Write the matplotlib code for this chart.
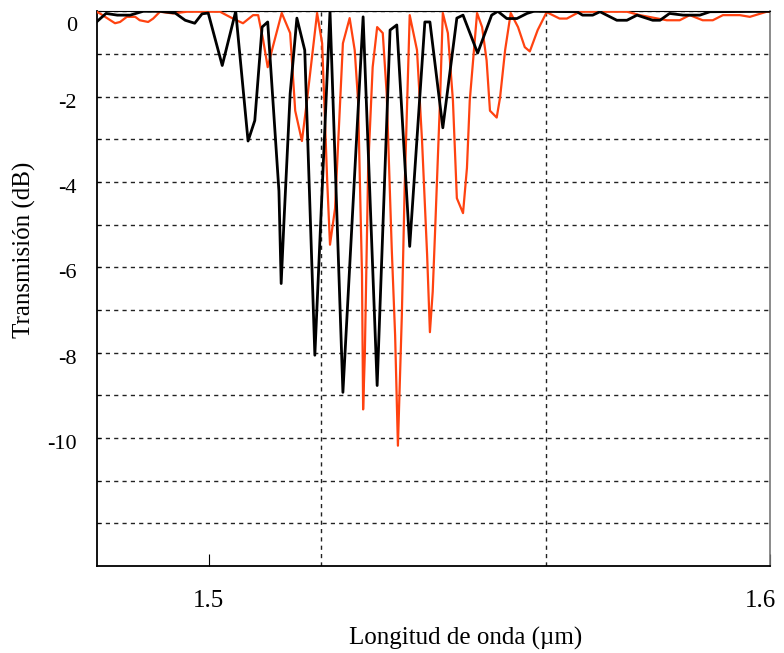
import matplotlib
matplotlib.use("Agg")
import matplotlib.pyplot as plt
from matplotlib.transforms import ScaledTranslation

# longitud de onda (um) y transmision (dB), curva negra
lam_negra = [1.4800, 1.4817, 1.4837, 1.4860, 1.4883, 1.4913, 1.4940, 1.4958, 1.4975,
             1.4988, 1.4999, 1.5024, 1.5048, 1.5070, 1.5082, 1.5095, 1.5105, 1.5125,
             1.5129, 1.5134, 1.5145, 1.5157, 1.5171, 1.5189, 1.5216, 1.5239, 1.5275,
             1.5300, 1.5323, 1.5335, 1.5358, 1.5385, 1.5394, 1.5417, 1.5442, 1.5453,
             1.5479, 1.5504, 1.5515, 1.5531, 1.5549, 1.5567, 1.5579, 1.5656, 1.5666,
             1.5684, 1.5697, 1.5727, 1.5745, 1.5763, 1.5791, 1.5804, 1.5821, 1.5845,
             1.5875, 1.5893, 1.6000]
tr_negra = [-0.25, -0.05, -0.09, -0.09, 0.0, 0.0, -0.04, -0.21, -0.28,
            -0.06, -0.04, -1.27, 0.0, -3.04, -2.56, -0.37, -0.25, -4.21,
            -6.38, -4.92, -1.93, -0.16, -0.91, -8.06, 0.0, -8.93, -0.13,
            -8.77, -0.44, -0.32, -5.51, -0.25, -0.25, -2.73, -0.16, -0.09,
            -0.98, -0.09, 0.0, -0.17, -0.17, -0.05, 0.0, -0.01, -0.09,
            -0.09, -0.01, -0.21, -0.21, -0.09, -0.21, -0.21, -0.05, -0.09,
            -0.09, -0.01, 0.0]

# curva naranja
lam_naranja = [1.4800, 1.4806, 1.4820, 1.4833, 1.4842, 1.4854, 1.4869, 1.4877, 1.4892,
               1.4901, 1.4913, 1.4936, 1.4961, 1.5020, 1.5043, 1.5061, 1.5079, 1.5088,
               1.5097, 1.5105, 1.5114, 1.5130, 1.5145, 1.5154, 1.5166, 1.5175, 1.5193,
               1.5202, 1.5211, 1.5216, 1.5225, 1.5239, 1.5251, 1.5260, 1.5266, 1.5273,
               1.5275, 1.5278, 1.5284, 1.5292, 1.5300, 1.5310, 1.5317, 1.5326, 1.5332,
               1.5337, 1.5344, 1.5349, 1.5358, 1.5371, 1.5380, 1.5389, 1.5394, 1.5399,
               1.5403, 1.5412, 1.5417, 1.5426, 1.5435, 1.5442, 1.5453, 1.5460, 1.5465,
               1.5478, 1.5487, 1.5495, 1.5501, 1.5513, 1.5519, 1.5528, 1.5538, 1.5551,
               1.5563, 1.5572, 1.5586, 1.5602, 1.5625, 1.5638, 1.5661, 1.5745, 1.5768,
               1.5816, 1.5839, 1.5857, 1.5880, 1.5898, 1.5916, 1.5946, 1.5964, 1.5994,
               1.6000]
tr_naranja = [-0.01, -0.05, -0.17, -0.28, -0.25, -0.13, -0.13, -0.21, -0.25,
              -0.17, -0.01, -0.05, -0.01, -0.01, -0.17, -0.28, -0.09, -0.09,
              -0.68, -1.31, -0.84, -0.04, -0.51, -2.33, -3.04, -2.09, -0.04,
              -0.75, -3.98, -5.47, -4.62, -0.75, -0.16, -0.91, -2.09, -6.17,
              -9.33, -8.06, -3.67, -1.31, -0.37, -0.51, -1.93, -5.56, -7.59,
              -10.18, -7.12, -4.14, -0.09, -0.91, -3.04, -5.70, -7.52, -6.57,
              -5.23, -2.09, -0.04, -0.51, -2.09, -4.38, -4.73, -3.67, -2.09,
              -0.04, -0.37, -1.15, -2.33, -2.49, -2.02, -0.91, -0.04, -0.37,
              -0.84, -0.94, -0.44, -0.02, -0.17, -0.17, -0.01, -0.01, -0.09,
              -0.21, -0.21, -0.09, -0.21, -0.21, -0.09, -0.09, -0.13, -0.01,
              -0.01]

y_ticks = [0, -2, -4, -6, -8, -10]
y_labels = ["0", "-2", "-4", "-6", "-8", "-10"]
x_ticks = [1.5, 1.6]
x_labels = ["1.5", "1.6"]

plt.rcParams['font.family'] = ['Liberation Serif', 'DejaVu Serif']

fig = plt.figure(figsize=(7.84, 6.53), dpi=100)
ax = fig.add_axes([0.1231, 0.1332, 0.8591, 0.8495])

ax.plot(lam_naranja, tr_naranja, color='#ff4210', lw=1.6, zorder=3)
ax.plot(lam_negra, tr_negra, color='black', lw=2.0, zorder=4)

ax.set_xlim(1.48, 1.6)
ax.set_ylim(-13, 0)

# rejilla discontinua
ax.set_yticks(y_ticks, y_labels)
ax.set_yticks([-1, -3, -5, -7, -9, -11, -12], minor=True)
ax.set_xticks(x_ticks, x_labels)
ax.set_xticks([1.52, 1.56], minor=True)
ax.grid(True, which='both', axis='y', color='#222222', ls=(0, (3, 3)), lw=1.0)
ax.grid(True, which='minor', axis='x', color='#222222', ls=(0, (3, 3)), lw=1.0)
ax.set_axisbelow(True)

ax.tick_params(axis='y', which='both', direction='in', length=3, labelsize=16, pad=14)
ax.tick_params(axis='x', which='major', direction='in', length=9, labelsize=18, pad=17)
ax.tick_params(axis='x', which='minor', length=0)

# etiquetas del eje y algo por debajo de la linea
for i, lab in enumerate(ax.get_yticklabels()):
    dy = -13 if i == 0 else -4
    lab.set_transform(lab.get_transform() + ScaledTranslation(0, dy / 100, fig.dpi_scale_trans))

# 1.6 pegado al borde derecho
lab16 = ax.get_xticklabels()[-1]
lab16.set_transform(lab16.get_transform() + ScaledTranslation(-10 / 100, 0, fig.dpi_scale_trans))

for s in ['left', 'bottom']:
    ax.spines[s].set_linewidth(1.3)
ax.spines['top'].set_linewidth(0.8)
ax.spines['right'].set_color('#777777')
ax.spines['right'].set_linewidth(1.2)

fig.text(466 / 784, 1 - 638 / 653, 'Longitud de onda (µm)', ha='center', va='center', fontsize=18)
fig.text(24 / 784, 1 - 250 / 653, 'Transmisión (dB)', ha='center', va='center',
         rotation=90, fontsize=18)

fig.savefig('out.png', dpi=100)
